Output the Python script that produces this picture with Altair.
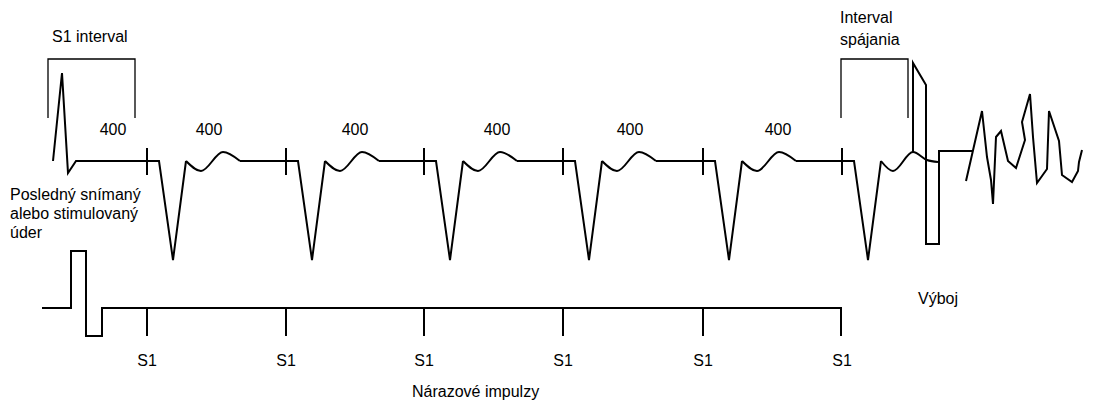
import altair as alt
import pandas as pd

# ---- data (image-pixel coordinates of the schematic) ----
pulse_x = [147, 286, 424, 563, 703, 842]          # S1 burst pulses
baseline_top = 161
baseline_bottom = 308

# last sensed / paced beat
sensed_x = [53, 62, 68, 76]
sensed_y = [161, 73, 173, 161]

# paced beat template (offset from pulse)
qrs_dx = [12, 26, 39]
qrs_y = [161, 260, 161]
twave_dx = [39, 54, 76, 93]
twave_y = [161, 171, 152, 161]

# last T-wave (interrupted by shock)
last_t_x = [881, 893, 913, 927, 938]
last_t_y = [161, 171, 152, 160, 162]

# shock
shock_x = [913, 913, 926, 926, 939, 939, 973]
shock_y = [152, 63, 85, 244, 244, 151, 151]

# ventricular fibrillation
vf_x = [966, 982, 987, 991, 993, 996, 1001, 1008, 1016, 1025, 1022, 1030, 1033, 1037,
        1047, 1049, 1059, 1062, 1072, 1078, 1079, 1082]
vf_y = [181, 111, 157, 180, 204, 137, 131, 161, 168, 140, 122, 94, 137, 183,
        169, 111, 141, 175, 182, 171, 162, 150]

# bottom pacing trace
burst_x = [42, 71, 71, 86, 86, 102, 102, 841, 841]
burst_y = [308, 308, 251, 251, 336, 336, 308, 308, 336]

# brackets
s1_bracket_x = [48, 48, 135, 135]
s1_bracket_y = [118, 59, 59, 118]
ci_bracket_x = [841, 841, 908, 908]
ci_bracket_y = [118, 59, 59, 118]

interval_labels = ["400", "400", "400", "400", "400", "400"]
interval_label_x = [113, 209, 355, 497, 630, 778]

texts = [
    ("S1 interval", 52, 37, 16),
    ("Posledný snímaný", 10, 195, 16),
    ("alebo stimulovaný", 10, 214, 16),
    ("úder", 10, 233, 16),
    ("Interval", 840, 18, 16),
    ("spájania", 840, 40, 16),
    ("Výboj", 918, 299, 16),
    ("Nárazové impulzy", 412, 392, 16),
]

# ---- build tables ----
rows = []
seg_id = [0]


def add(kind, xs, ys):
    for i, (x, y) in enumerate(zip(xs, ys)):
        rows.append(dict(seg=seg_id[0], kind=kind, x=x, y=y, o=i))
    seg_id[0] += 1


lin_x = list(sensed_x)
lin_y = list(sensed_y)
for i, p in enumerate(pulse_x):
    lin_x += [p + d for d in qrs_dx]
    lin_y += qrs_y
    add("lin", lin_x, lin_y)
    if i < len(pulse_x) - 1:
        add("smooth", [p + d for d in twave_dx], twave_y)
        lin_x = [p + twave_dx[-1]]
        lin_y = [twave_y[-1]]
add("smooth", last_t_x, last_t_y)
add("lin", shock_x, shock_y)
add("lin", vf_x, vf_y)
add("lin", burst_x, burst_y)
add("thin", s1_bracket_x, s1_bracket_y)
add("thin", ci_bracket_x, ci_bracket_y)

lines = pd.DataFrame(rows)

ticks = pd.DataFrame(
    [dict(x=p, y=148, y2=175) for p in pulse_x]
    + [dict(x=p, y=baseline_bottom, y2=336) for p in pulse_x[:5]]
)

text_rows = [dict(t=t, x=x, y=y, s=s, a="left") for t, x, y, s in texts]
text_rows += [dict(t=l, x=x, y=130, s=16, a="center") for l, x in zip(interval_labels, interval_label_x)]
text_rows += [dict(t="S1", x=p, y=361, s=16, a="center") for p in pulse_x]
text_df = pd.DataFrame(text_rows)

X = alt.X("x:Q", scale=alt.Scale(domain=[8, 1099], nice=False, zero=False), axis=None)
Y = alt.Y("y:Q", scale=alt.Scale(domain=[8, 401], nice=False, zero=False, reverse=True), axis=None)

base = alt.Chart(lines)

lin_layer = base.transform_filter(alt.datum.kind == "lin").mark_line(
    color="black", strokeWidth=2, interpolate="linear"
).encode(x=X, y=Y, detail="seg:N", order="o:Q")

smooth_layer = base.transform_filter(alt.datum.kind == "smooth").mark_line(
    color="black", strokeWidth=2, interpolate="monotone"
).encode(x=X, y=Y, detail="seg:N", order="o:Q")

thin_layer = base.transform_filter(alt.datum.kind == "thin").mark_line(
    color="black", strokeWidth=1.3, interpolate="linear"
).encode(x=X, y=Y, detail="seg:N", order="o:Q")

tick_layer = alt.Chart(ticks).mark_rule(color="black", strokeWidth=2).encode(
    x=X, y=Y, y2="y2:Q"
)

left_text = alt.Chart(text_df).transform_filter(alt.datum.a == "left").mark_text(
    align="left", baseline="middle", font="Liberation Sans", color="black"
).encode(x=X, y=Y, text="t:N", size=alt.Size("s:Q", scale=None))

center_text = alt.Chart(text_df).transform_filter(alt.datum.a == "center").mark_text(
    align="center", baseline="middle", font="Liberation Sans", color="black"
).encode(x=X, y=Y, text="t:N", size=alt.Size("s:Q", scale=None))

chart = alt.layer(
    lin_layer, smooth_layer, thin_layer, tick_layer, left_text, center_text
).properties(
    width=1091, height=393, padding=0, autosize=alt.AutoSizeParams(type="none"),
    background="white"
).configure_view(stroke=None)

chart.save("out.html", embed_options={"renderer": "svg", "actions": False})
